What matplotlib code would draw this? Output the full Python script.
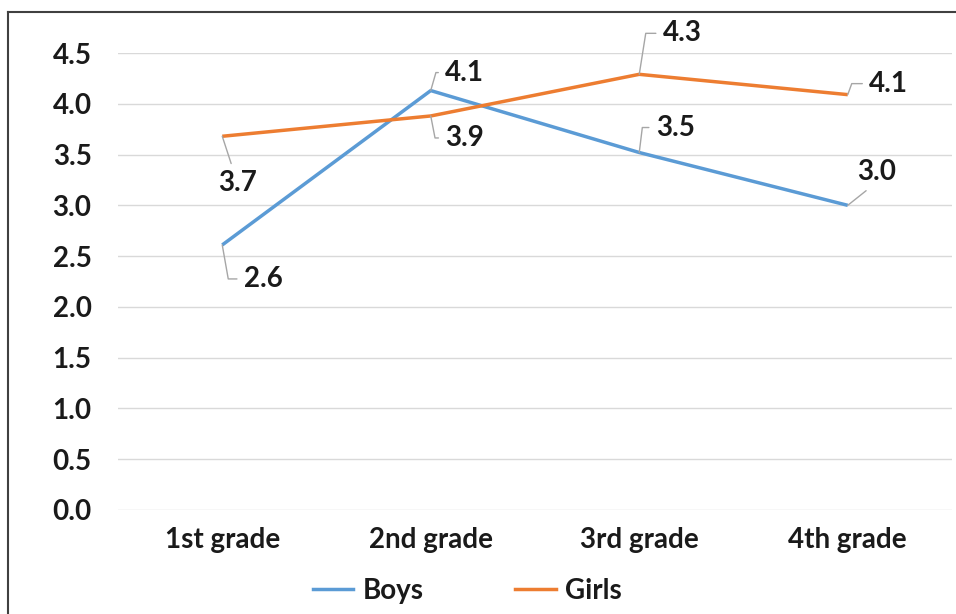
import matplotlib
matplotlib.use("Agg")
import matplotlib.pyplot as plt
from matplotlib.lines import Line2D

# ===== data =====
grades = ["1st grade", "2nd grade", "3rd grade", "4th grade"]
boys = [2.61, 4.13, 3.52, 3.00]
girls = [3.68, 3.88, 4.29, 4.09]
y_ticks = [0.0, 0.5, 1.0, 1.5, 2.0, 2.5, 3.0, 3.5, 4.0, 4.5]

BLUE = "#5B9BD5"
ORANGE = "#ED7D31"
GRID = "#D9D9D9"
LEADER = "#A6A6A6"
TXT = "#1A1A1A"
FS = 20

plt.rcParams["font.family"] = ["Lato", "DejaVu Sans"]

fig = plt.figure(figsize=(9.56, 6.14), dpi=100)
ax = fig.add_axes([118 / 956, 104 / 614, (952 - 118) / 956, (510 - 53) / 614])

x = list(range(len(grades)))
ax.plot(x, boys, color=BLUE, lw=2.5, label="Boys", solid_capstyle="butt", zorder=3)
ax.plot(x, girls, color=ORANGE, lw=2.5, label="Girls", solid_capstyle="butt", zorder=3)

ax.set_xlim(-0.5, len(grades) - 0.5)
ax.set_ylim(0, 4.5)
ax.set_yticks(y_ticks)
ax.set_yticklabels([f"{v:.1f}" for v in y_ticks])
ax.set_xticks(x)
ax.set_xticklabels(grades)
ax.yaxis.grid(True, color=GRID, lw=1.0)
ax.set_axisbelow(True)
for s in ax.spines.values():
    s.set_visible(False)
ax.tick_params(axis="both", length=0, labelsize=FS, labelcolor=TXT)
ax.tick_params(axis="y", pad=19)
ax.tick_params(axis="x", pad=12)
for lab in ax.get_xticklabels() + ax.get_yticklabels():
    lab.set_fontweight("bold")

# ===== data labels with leader lines (offsets in pixels) =====
# (dx, dy, relpos, connection)
boys_lbl = [
    (41, -34, (0, 0.5), "angle,angleA=0,angleB=100,rad=0"),
    (34, 18, (0, 0.5), "angle,angleA=0,angleB=74,rad=0"),
    (36, 25, (0, 0.5), "angle,angleA=0,angleB=83,rad=0"),
    (29, 33, (0.4, 0), "arc3"),
]
girls_lbl = [
    (15, -47, (0.4, 1), "arc3"),
    (34, -22, (0, 0.5), "angle,angleA=0,angleB=101,rad=0"),
    (43, 41, (0, 0.5), "angle,angleA=0,angleB=81,rad=0"),
    (41, 11, (0, 0.5), "angle,angleA=0,angleB=70,rad=0"),
]

for series, opts in [(boys, boys_lbl), (girls, girls_lbl)]:
    for i, v in enumerate(series):
        dx, dy, rp, cs = opts[i]
        ax.annotate(f"{v:.1f}", xy=(i, v), xytext=(dx, dy), textcoords="offset pixels",
                    ha="center", va="center", fontsize=FS, fontweight="bold", color=TXT,
                    arrowprops=dict(arrowstyle="-", color=LEADER, lw=1.0, relpos=rp,
                                    connectionstyle=cs, shrinkA=3, shrinkB=0),
                    annotation_clip=False, zorder=4)

leg = fig.legend(handles=[Line2D([], [], color=BLUE, lw=2.5), Line2D([], [], color=ORANGE, lw=2.5)],
                 labels=["Boys", "Girls"], loc="center", bbox_to_anchor=(0.489, 0.038),
                 ncol=2, frameon=False, fontsize=FS, handlelength=1.45, handletextpad=0.35,
                 columnspacing=3.3)
for t in leg.get_texts():
    t.set_fontweight("bold")
    t.set_color(TXT)

# chart frame (left and top edges visible)
fig.add_artist(Line2D([8 / 956, 8 / 956], [0, 1 - 12 / 614], color="#404040", lw=1.5,
                      transform=fig.transFigure))
fig.add_artist(Line2D([8 / 956, 1], [1 - 12 / 614, 1 - 12 / 614], color="#404040", lw=1.5,
                      transform=fig.transFigure))

fig.savefig("out.png", dpi=100)
